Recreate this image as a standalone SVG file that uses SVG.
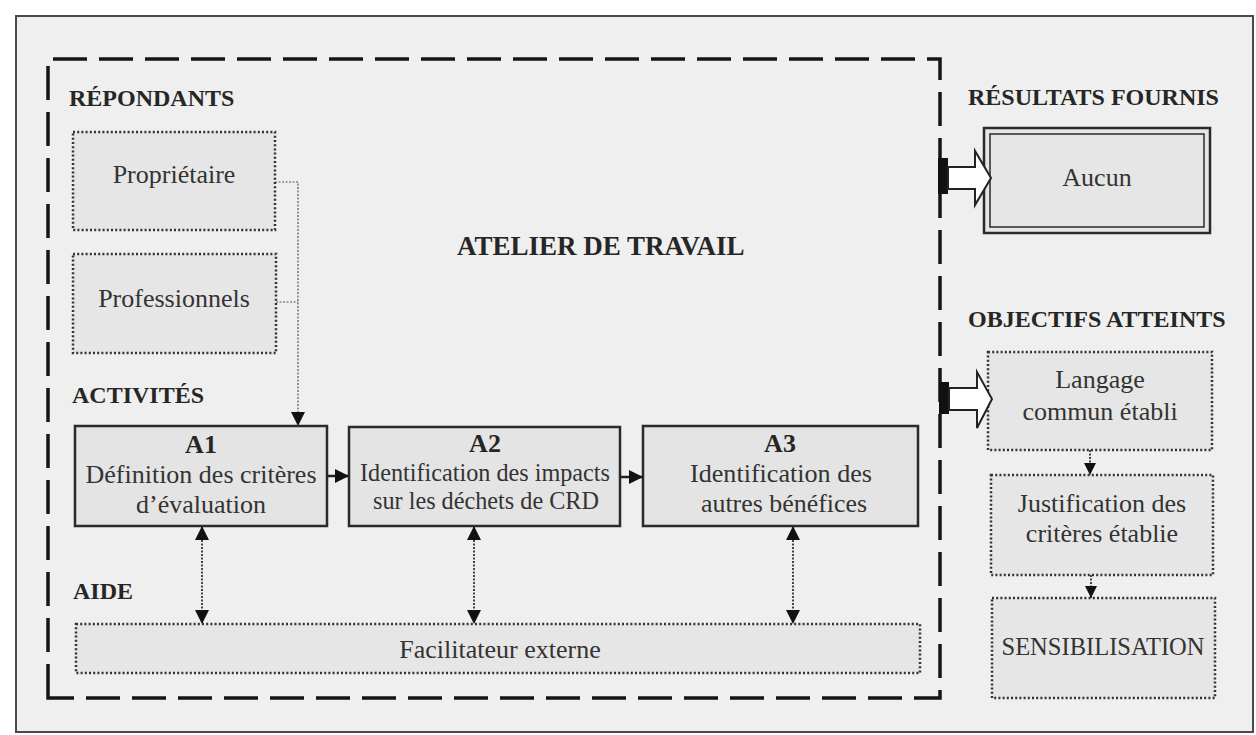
<svg xmlns="http://www.w3.org/2000/svg" width="1256" height="735" viewBox="0 0 1256 735">
  <style>
    .hdr { font-family: "Liberation Serif", "Times New Roman", serif; font-weight: bold; font-size: 24px; fill: #262626; }
    .ttl { font-family: "Liberation Serif", "Times New Roman", serif; font-weight: bold; font-size: 27px; fill: #262626; }
    .txt { font-family: "Liberation Serif", "Times New Roman", serif; font-size: 26px; fill: #333; text-anchor: middle; }
    .bld { font-family: "Liberation Serif", "Times New Roman", serif; font-weight: bold; font-size: 26px; fill: #262626; text-anchor: middle; }
    .dotbox { fill: #e6e6e6; stroke: #333; stroke-width: 2.5; stroke-dasharray: 2 2.2; }
    .actbox { fill: #e4e4e4; stroke: #2a2a2a; stroke-width: 2.5; }
    .thin { fill: none; stroke: #555; stroke-width: 1.2; stroke-dasharray: 2 1.5; }
    .link { fill: none; stroke: #333; stroke-width: 1.8; stroke-dasharray: 2 1.5; }
    .solid { fill: none; stroke: #222; stroke-width: 2.5; }
    .block { fill: #fff; stroke: #222; stroke-width: 2; }
  </style>
  <defs>
    <marker id="tri" viewBox="0 0 14 14" refX="14" refY="7" markerWidth="14" markerHeight="14" markerUnits="userSpaceOnUse" orient="auto-start-reverse">
      <path d="M0,0 L14,7 L0,14 Z" fill="#111"/>
    </marker>
    <marker id="triS" viewBox="0 0 12 12" refX="12" refY="6" markerWidth="12" markerHeight="12" markerUnits="userSpaceOnUse" orient="auto-start-reverse">
      <path d="M0,0 L12,6 L0,12 Z" fill="#111"/>
    </marker>
  </defs>

  <!-- page and frame -->
  <rect x="0" y="0" width="1256" height="735" fill="#ffffff"/>
  <rect x="16" y="16" width="1237" height="716" fill="#efefef" stroke="#4a4a4a" stroke-width="2"/>

  <!-- workshop boundary -->
  <g id="atelier">
    <path d="M48,698 V59 H940 V698 Z" fill="none" stroke="#151515" stroke-width="3.5" stroke-dasharray="34 12"/>
    <text class="ttl" x="457" y="255">ATELIER DE TRAVAIL</text>
  </g>

  <!-- section headers -->
  <g id="headers">
    <text class="hdr" x="69" y="106">RÉPONDANTS</text>
    <text class="hdr" x="72" y="403">ACTIVITÉS</text>
    <text class="hdr" x="73" y="599">AIDE</text>
    <text class="hdr" x="968" y="105">RÉSULTATS FOURNIS</text>
    <text class="hdr" x="968" y="327">OBJECTIFS ATTEINTS</text>
  </g>

  <!-- respondents -->
  <g id="proprietaire">
    <rect class="dotbox" x="73" y="132" width="202" height="98"/>
    <text class="txt" x="174" y="183">Propriétaire</text>
  </g>
  <g id="professionnels">
    <rect class="dotbox" x="73" y="254" width="203" height="99"/>
    <text class="txt" x="174" y="307">Professionnels</text>
  </g>

  <!-- activities -->
  <g id="a1">
    <rect class="actbox" x="75" y="426" width="252" height="100"/>
    <text class="bld" x="201" y="453">A1</text>
    <text class="txt" x="201" y="483">Définition des critères</text>
    <text class="txt" x="201" y="513">d’évaluation</text>
  </g>
  <g id="a2">
    <rect class="actbox" x="349" y="427" width="271" height="99"/>
    <text class="bld" x="485" y="452">A2</text>
    <text class="txt" x="485" y="481" textLength="250" lengthAdjust="spacingAndGlyphs">Identification des impacts</text>
    <text class="txt" x="486" y="509" textLength="226" lengthAdjust="spacingAndGlyphs">sur les déchets de CRD</text>
  </g>
  <g id="a3">
    <rect class="actbox" x="643" y="426" width="275" height="100"/>
    <text class="bld" x="780" y="452">A3</text>
    <text class="txt" x="781" y="482" textLength="182" lengthAdjust="spacingAndGlyphs">Identification des</text>
    <text class="txt" x="784" y="512" textLength="166" lengthAdjust="spacingAndGlyphs">autres bénéfices</text>
  </g>

  <!-- support -->
  <g id="facilitateur">
    <rect class="dotbox" x="76" y="624" width="844" height="49"/>
    <text class="txt" x="500" y="658">Facilitateur externe</text>
  </g>

  <!-- results -->
  <g id="aucun">
    <rect x="984" y="128" width="226" height="105" fill="#e6e6e6" stroke="#2a2a2a" stroke-width="2.5"/>
    <rect x="990" y="134" width="214" height="93" fill="none" stroke="#2a2a2a" stroke-width="1.5"/>
    <text class="txt" x="1097" y="186">Aucun</text>
  </g>

  <!-- objectives reached -->
  <g id="langage">
    <rect class="dotbox" x="988" y="352" width="224" height="98"/>
    <text class="txt" x="1100" y="388">Langage</text>
    <text class="txt" x="1100" y="420">commun établi</text>
  </g>
  <g id="justification">
    <rect class="dotbox" x="991" y="475" width="222" height="100"/>
    <text class="txt" x="1102" y="512">Justification des</text>
    <text class="txt" x="1102" y="542">critères établie</text>
  </g>
  <g id="sensibilisation">
    <rect class="dotbox" x="992" y="598" width="223" height="100"/>
    <text class="txt" x="1103" y="655" font-size="24" textLength="203" lengthAdjust="spacingAndGlyphs">SENSIBILISATION</text>
  </g>

  <!-- connectors -->
  <g id="connectors">
    <!-- respondents feed into A1 -->
    <path class="thin" d="M275,182 H298 V426" marker-end="url(#tri)"/>
    <path class="thin" d="M276,302 H298"/>

    <!-- activity sequence -->
    <line class="solid" x1="327" y1="476" x2="349" y2="476" marker-end="url(#tri)"/>
    <line class="solid" x1="620" y1="477" x2="643" y2="477" marker-end="url(#tri)"/>

    <!-- facilitator exchanges -->
    <line class="link" x1="202" y1="526" x2="202" y2="624" marker-start="url(#tri)" marker-end="url(#tri)"/>
    <line class="link" x1="474" y1="526" x2="474" y2="624" marker-start="url(#tri)" marker-end="url(#tri)"/>
    <line class="link" x1="793" y1="526" x2="793" y2="624" marker-start="url(#tri)" marker-end="url(#tri)"/>

    <!-- objectives chain -->
    <line class="link" x1="1090" y1="450" x2="1090" y2="475" marker-end="url(#triS)"/>
    <line class="link" x1="1091" y1="575" x2="1091" y2="598" marker-end="url(#triS)"/>

    <!-- block arrows leaving the workshop -->
    <rect x="938" y="158" width="10" height="36" fill="#111"/>
    <polygon class="block" points="948,167 975,167 975,151 991,178 975,205 975,189 948,189"/>
    <rect x="939" y="382" width="10" height="32" fill="#111"/>
    <polygon class="block" points="949,388 977,388 977,372 992,399 977,428 977,410 949,410"/>
  </g>
</svg>
